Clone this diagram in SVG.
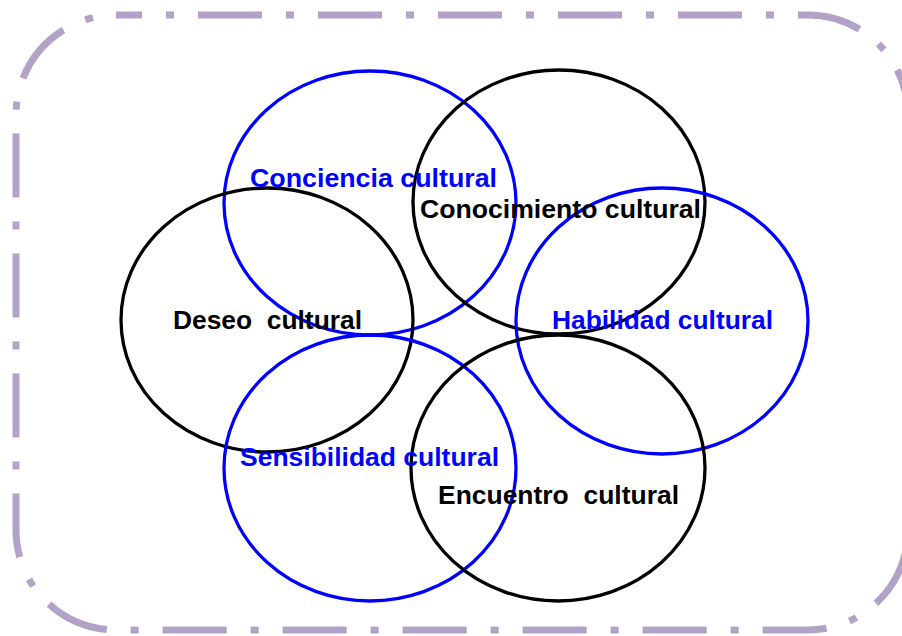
<svg xmlns="http://www.w3.org/2000/svg" width="902" height="636" viewBox="0 0 902 636">
<style>
.frame{fill:none;stroke:#b3a2c7;stroke-width:7;stroke-dasharray:64 24 8 24;stroke-dashoffset:38}
.blue ellipse{fill:none;stroke:#0000ff;stroke-width:3.3}
.black ellipse{fill:none;stroke:#000000;stroke-width:3.3}
text{font-family:"Liberation Sans",Arial,sans-serif;font-weight:bold;font-size:25px;white-space:pre}
.blue text{fill:#0000ff}
.black text{fill:#000000}
</style>
<rect class="frame" x="16" y="15" width="892" height="615" rx="100" ry="100"/>
<g id="conciencia" class="blue">
<ellipse cx="370" cy="203" rx="146" ry="132"/>
</g>
<g id="conocimiento" class="black">
<ellipse cx="559" cy="202" rx="146" ry="132"/>
</g>
<g id="deseo" class="black">
<ellipse cx="267" cy="320" rx="146" ry="132"/>
</g>
<g id="habilidad" class="blue">
<ellipse cx="662" cy="321" rx="146" ry="133"/>
</g>
<g id="sensibilidad" class="blue">
<ellipse cx="370" cy="468" rx="146" ry="133"/>
</g>
<g id="encuentro" class="black">
<ellipse cx="558" cy="468" rx="147" ry="133"/>
</g>
<g id="labels">
<g class="blue"><text x="250" y="187" textLength="247" lengthAdjust="spacingAndGlyphs">Conciencia cultural</text></g>
<g class="black"><text x="420" y="218" textLength="281" lengthAdjust="spacingAndGlyphs">Conocimiento cultural</text></g>
<g class="black"><text x="173" y="329" textLength="189" lengthAdjust="spacingAndGlyphs" xml:space="preserve">Deseo  cultural</text></g>
<g class="blue"><text x="552" y="329" textLength="221" lengthAdjust="spacingAndGlyphs">Habilidad cultural</text></g>
<g class="blue"><text x="240" y="466" textLength="259" lengthAdjust="spacingAndGlyphs">Sensibilidad cultural</text></g>
<g class="black"><text x="438" y="504" textLength="241" lengthAdjust="spacingAndGlyphs" xml:space="preserve">Encuentro  cultural</text></g>
</g>
</svg>
